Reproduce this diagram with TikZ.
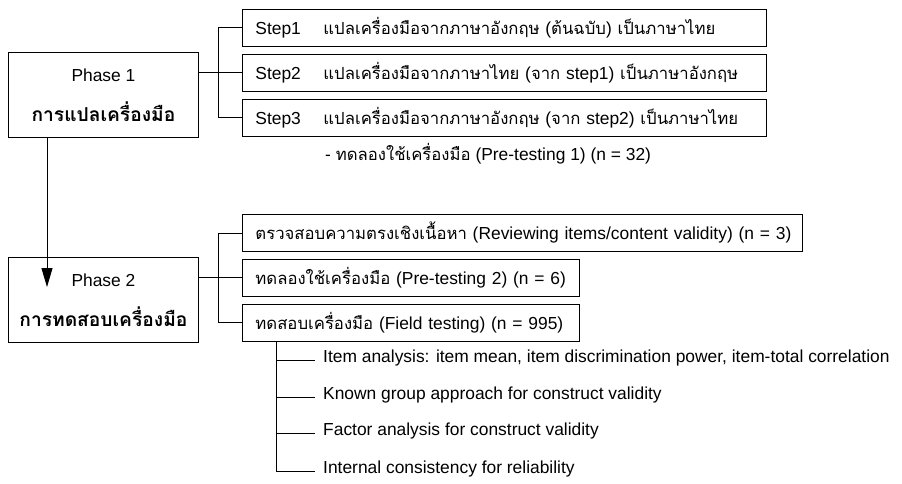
\documentclass[tikz,border=0pt]{standalone}
\usepackage{fontspec}
\setmainfont{Liberation Sans}
\newfontfamily\thai[Script=Thai,Scale=0.96]{Loma}
\usetikzlibrary{positioning,arrows.meta}

\tikzset{
  phasebox/.style={draw,line width=0.9pt,anchor=north west,minimum width=190pt,minimum height=85pt,align=center,inner sep=0pt},
  stepbox/.style={draw,line width=0.9pt,minimum height=37pt,inner xsep=13pt,inner ysep=0pt,align=left},
  itemtext/.style={anchor=base west,inner sep=0pt},
  link/.style={line width=0.9pt}
}

\begin{document}
\begin{tikzpicture}[x=1pt,y=-1pt,font=\fontsize{17.4}{20}\selectfont]
\useasboundingbox (0,0) rectangle (902,484);

% Phase 1
\node[phasebox] (p1) at (8,52) {Phase 1\\[20pt]{\thai\bfseries\fontsize{20}{21}\selectfont การแปลเครื่องมือ}};

\node[stepbox,anchor=north west,text width=498pt] (s1) at (242,9) {\mbox{\makebox[68pt][l]{Step1}{\thai แปลเครื่องมือจากภาษาอังกฤษ} ({\thai ต้นฉบับ}) {\thai เป็นภาษาไทย}}};
\node[stepbox,text width=498pt,below=7pt of s1] (s2) {\mbox{\makebox[68pt][l]{Step2}{\thai แปลเครื่องมือจากภาษาไทย} ({\thai จาก} step1) {\thai เป็นภาษาอังกฤษ}}};
\node[stepbox,text width=498pt,below=7pt of s2] (s3) {\mbox{\makebox[68pt][l]{Step3}{\thai แปลเครื่องมือจากภาษาอังกฤษ} ({\thai จาก} step2) {\thai เป็นภาษาไทย}}};

\node[anchor=west,inner sep=0pt] (n1) at (325,154) {- {\thai ทดลองใช้เครื่องมือ} (Pre-testing 1) (n = 32)};

\draw[link] (s2.west -| p1.east) -- (s2.west);
\draw[link] (s1.west) -- ++(-24,0) |- (s3.west);

% Phase 2
\node[phasebox] (p2) at (8,257) {Phase 2\\[20pt]{\thai\bfseries\fontsize{20}{21}\selectfont การทดสอบเครื่องมือ}};

\draw[link,-{Triangle[length=19pt,width=11pt]}] ([xshift=39pt]p1.south west) -- ([xshift=39pt,yshift=-30pt]p2.north west);

\node[stepbox,anchor=north west,text width=534pt] (q1) at (242,214) {\mbox{{\thai ตรวจสอบความตรงเชิงเนื้อหา} (Reviewing items/content validity) (n = 3)}};
\node[stepbox,text width=311pt,below=7pt of q1.south west,anchor=north west] (q2) {\mbox{{\thai ทดลองใช้เครื่องมือ} (Pre-testing 2) (n = 6)}};
\node[stepbox,text width=311pt,below=7pt of q2.south west,anchor=north west] (q3) {\mbox{{\thai ทดสอบเครื่องมือ} (Field testing) (n = 995)}};

\draw[link] (q2.west -| p2.east) -- (q2.west);
\draw[link] (q1.west) -- ++(-24,0) |- (q3.west);

% Field testing analyses
\node[itemtext] (i1) at (323,362) {Item analysis: item mean, item discrimination power, item-total correlation};
\node[itemtext] (i2) at (323,399) {Known group approach for construct validity};
\node[itemtext] (i3) at (323,435) {Factor analysis for construct validity};
\node[itemtext] (i4) at (323,473) {Internal consistency for reliability};

\foreach \i in {1,...,4}
  \draw[link] ([xshift=34pt]q3.south west) |- ([xshift=-8pt,yshift=2pt]i\i.base west);
\end{tikzpicture}
\end{document}
